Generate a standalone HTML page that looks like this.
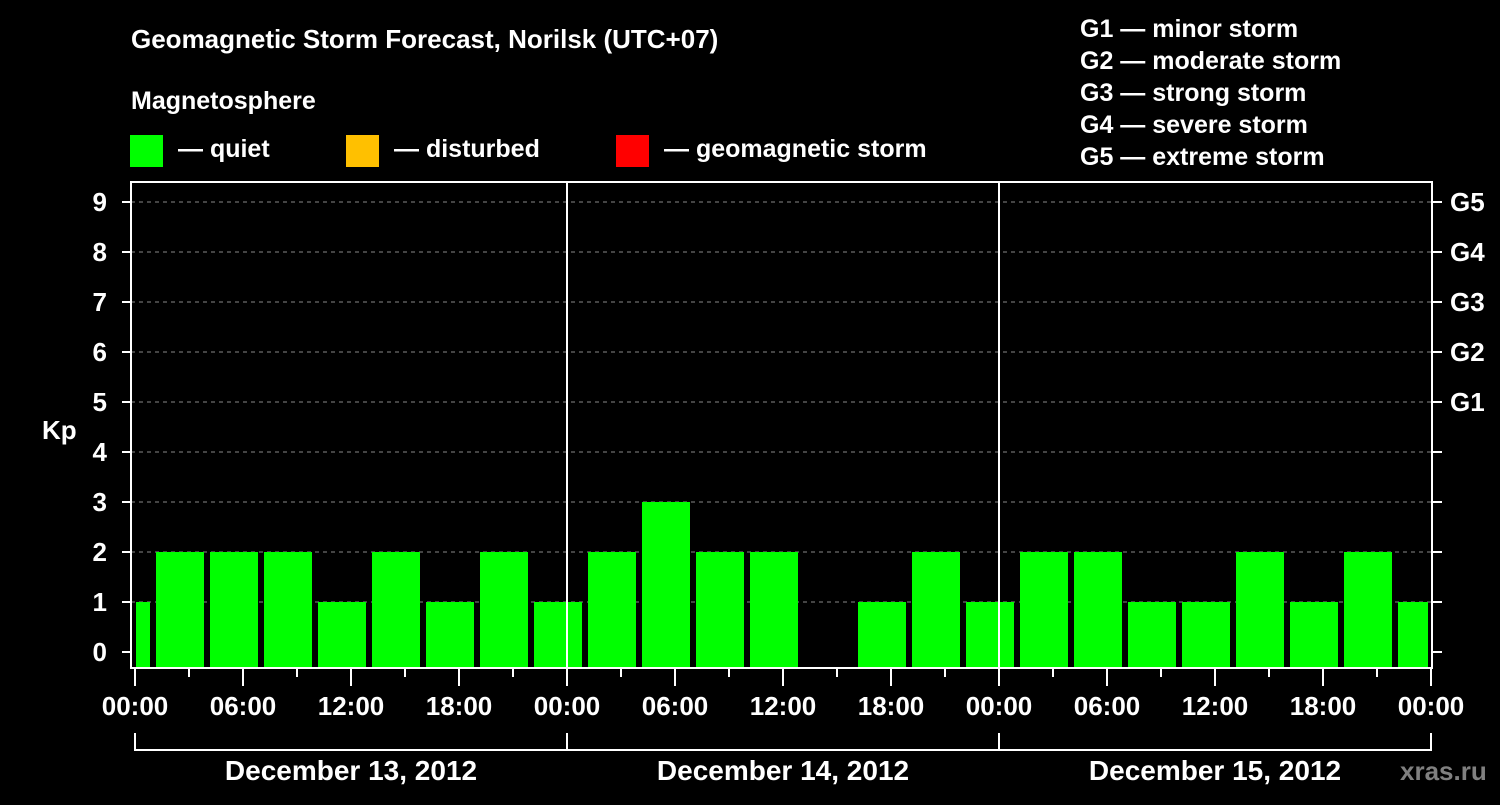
<!DOCTYPE html>
<html><head><meta charset="utf-8"><style>
body{margin:0;background:#000;width:1500px;height:800px;overflow:hidden}
svg text{font-family:"Liberation Sans",sans-serif;font-weight:bold;fill:#fff}
</style></head><body>
<svg id="chart" width="1500" height="800" xmlns="http://www.w3.org/2000/svg">
<rect width="1500" height="800" fill="#000"/>
<text x="131" y="48" font-size="26">Geomagnetic Storm Forecast, Norilsk (UTC+07)</text>
<text x="131" y="109" font-size="25">Magnetosphere</text>
<g><rect x="130" y="135" width="33" height="32" fill="#00ff00"/><text x="178" y="157" font-size="25">— quiet</text></g>
<g><rect x="346" y="135" width="33" height="32" fill="#ffc000"/><text x="394" y="157" font-size="25">— disturbed</text></g>
<g><rect x="616" y="135" width="33" height="32" fill="#ff0000"/><text x="664" y="157" font-size="25">— geomagnetic storm</text></g>
<g font-size="25">
<text x="1080" y="37" font-size="25">G1 — minor storm</text>
<text x="1080" y="69" font-size="25">G2 — moderate storm</text>
<text x="1080" y="101" font-size="25">G3 — strong storm</text>
<text x="1080" y="133" font-size="25">G4 — severe storm</text>
<text x="1080" y="165" font-size="25">G5 — extreme storm</text>
</g>
<g id="plot"></g>
<text x="42" y="439" font-size="26">Kp</text>
<text x="1400" y="780" font-size="26" style="fill:#808080">xras.ru</text>
</svg>
<script>
const kpValues=[1,2,2,2,1,2,1,2,1,2,3,2,2,0,1,2,1,2,2,1,1,2,1,2,1];
const barHours=[-0.5,2.5,5.5,8.5,11.5,14.5,17.5,20.5,23.5,26.5,29.5,32.5,35.5,38.5,41.5,44.5,47.5,50.5,53.5,56.5,59.5,62.5,65.5,68.5,71.5];
const yTicks=[0,1,2,3,4,5,6,7,8,9];
const gLabels=["G1","G2","G3","G4","G5"];
const gLevels=[5,6,7,8,9];
const timeLabels=["00:00","06:00","12:00","18:00","00:00","06:00","12:00","18:00","00:00","06:00","12:00","18:00","00:00"];
const dayLabels=["December 13, 2012","December 14, 2012","December 15, 2012"];
const colorFor=v=>v>=5?"#ff0000":v>=4?"#ffc000":"#00ff00";
const X0=135,HR=18,PL=131,PR=1432,PT=182,PB=668;
const x=h=>X0+h*HR, y=v=>652-v*50;
const NS="http://www.w3.org/2000/svg";
const g=document.getElementById('plot');
function mk(t,a,p){const e=document.createElementNS(NS,t);for(const k in a)e.setAttribute(k,a[k]);(p||g).appendChild(e);return e;}
yTicks.forEach(v=>{
 if(v>0){const l=mk('line',{x1:PL,x2:PR,y1:y(v),y2:y(v),stroke:'#888','stroke-dasharray':'4 4','stroke-width':1});
 
 }
 const t=mk('line',{x1:122,x2:PL,y1:y(v),y2:y(v),stroke:'#fff','stroke-width':2});
 
 
 const t2=mk('line',{x1:PR,x2:1442,y1:y(v),y2:y(v),stroke:'#fff','stroke-width':2});
 
 
 const tx=mk('text',{x:107,y:y(v)+9,'font-size':26,'text-anchor':'end'});tx.textContent=v;
 
 
});
gLabels.forEach((s,i)=>{const tx=mk('text',{x:1450,y:y(gLevels[i])+9,'font-size':26});tx.textContent=s;
 
 });
kpValues.forEach((v,i)=>{
 if(v<=0)return;
 let a=Math.max(x(barHours[i])-24,136),b=Math.min(x(barHours[i])+24,1428);
 const r=mk('rect',{x:a,y:y(v),width:b-a,height:PB-y(v),fill:colorFor(v)});
 
 
});
[1,2].forEach(d=>{const l=mk('line',{x1:x(24*d),x2:x(24*d),y1:PT,y2:PB,stroke:'#fff','stroke-width':2});
 
 });
const fr=mk('rect',{x:PL,y:PT,width:PR-PL,height:PB-PT,fill:'none',stroke:'#fff','stroke-width':2});


for(let h=0;h<=72;h+=3){const l=mk('line',{x1:x(h),x2:x(h),y1:PB,y2:h%6?677:686,stroke:'#fff','stroke-width':2});
 
 }
timeLabels.forEach((s,i)=>{const tx=mk('text',{x:x(i*6),y:715,'font-size':26,'text-anchor':'middle'});tx.textContent=s;
 
 });
const br=mk('path',{d:`M${x(0)} 733V750H${x(72)}V733M${x(24)} 733V750M${x(48)} 733V750`,stroke:'#fff','stroke-width':2,fill:'none'});


dayLabels.forEach((s,i)=>{const tx=mk('text',{x:x(i*24+12),y:780,'font-size':28,'text-anchor':'middle'});tx.textContent=s;
 
 });
</script>
</body></html>
